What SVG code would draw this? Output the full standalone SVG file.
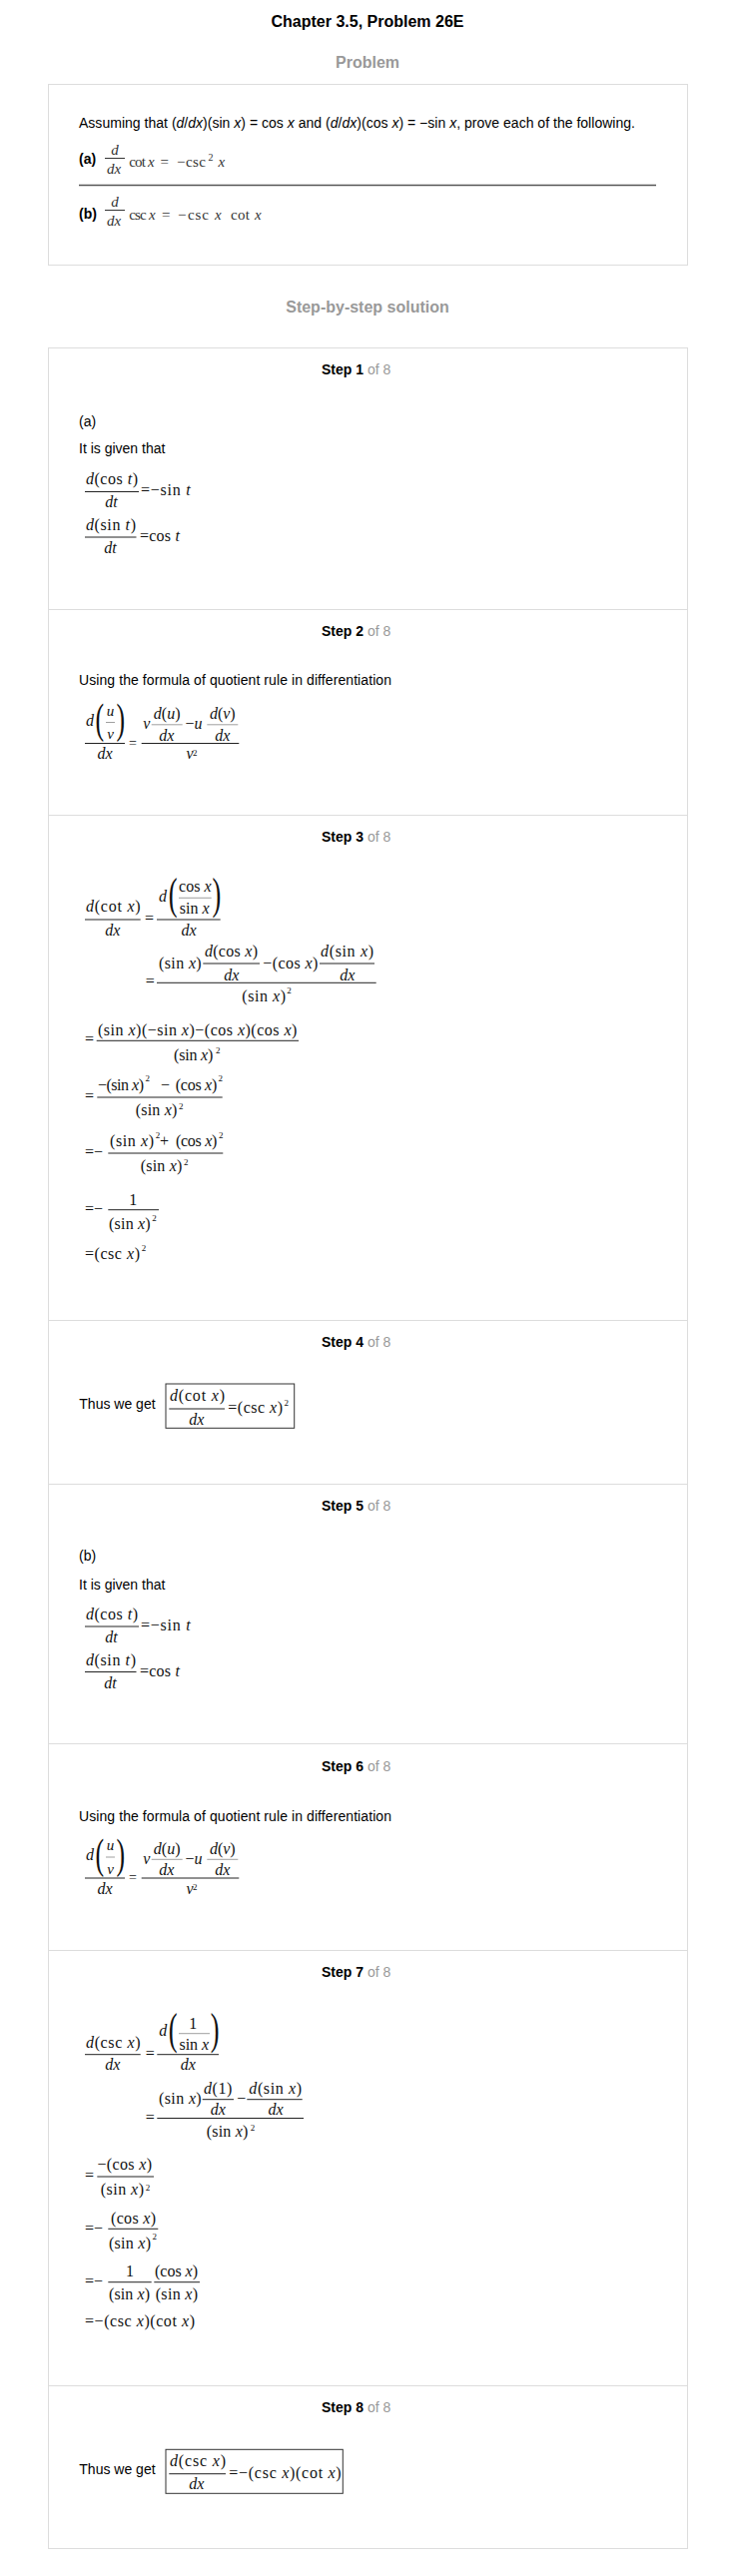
<svg xmlns="http://www.w3.org/2000/svg" width="738" height="2580" viewBox="0 0 738 2580">
<style>
.s{font-family:"Liberation Sans",Arial,sans-serif;font-size:14px;fill:#000}
.b{font-weight:bold}
.h{font-family:"Liberation Sans",Arial,sans-serif;font-size:16px;font-weight:bold;fill:#999;text-anchor:middle}
.g{fill:#999;font-weight:normal}
.m{font-family:"Liberation Serif","Times New Roman",serif;font-size:16px;fill:#111}
.pm{font-family:"Liberation Serif","Times New Roman",serif;font-size:15px;fill:#333}
.i{font-style:italic}
.c{text-anchor:middle}
.sp{font-size:9px}
.bp{font-family:"Liberation Serif","Times New Roman",serif;font-size:44px;fill:#111}
.fl{stroke:#222;stroke-width:1}
.fg{stroke:#888;stroke-width:0.8}
.bd{fill:none;stroke:#ddd;stroke-width:1}
.bx{fill:none;stroke:#333;stroke-width:1}
</style>
<rect x="0" y="0" width="738" height="2580" fill="#fff"/>

<g id="header">
<text x="368" y="27" class="s b c" style="font-size:16px">Chapter 3.5, Problem 26E</text>
<text x="368" y="68" class="h">Problem</text>
</g>

<g id="problem">
<rect x="48.5" y="84.5" width="640" height="181" class="bd"/>
<text x="79" y="128" class="s" textLength="557" lengthAdjust="spacing">Assuming that (<tspan class="i">d</tspan>/<tspan class="i">dx</tspan>)(sin <tspan class="i">x</tspan>) = cos <tspan class="i">x</tspan> and (<tspan class="i">d</tspan>/<tspan class="i">dx</tspan>)(cos <tspan class="i">x</tspan>) = −sin <tspan class="i">x</tspan>, prove each of the following.</text>
<text x="79" y="164" class="s b">(a)</text>
<text x="115" y="155" class="pm i c">d</text>
<line x1="105" y1="158.5" x2="125" y2="158.5" stroke="#333" stroke-width="1"/>
<text x="114" y="174" class="pm i c">dx</text>
<text x="129.3" y="166.5" class="pm" textLength="16.5" lengthAdjust="spacing">cot</text>
<text x="148" y="166.5" class="pm i">x</text>
<text x="160.5" y="166.5" class="pm">=</text>
<text x="177" y="166.5" class="pm">−</text>
<text x="186" y="166.5" class="pm" textLength="20" lengthAdjust="spacing">csc</text>
<text x="208.5" y="161" class="pm" style="font-size:10px">2</text>
<text x="218.5" y="166.5" class="pm i">x</text>
<line x1="79" y1="185.5" x2="657" y2="185.5" stroke="#555" stroke-width="1.5"/>
<text x="79" y="219" class="s b">(b)</text>
<text x="115" y="206.7" class="pm i c">d</text>
<line x1="105" y1="210.5" x2="125" y2="210.5" stroke="#333" stroke-width="1"/>
<text x="114" y="226" class="pm i c">dx</text>
<text x="129.3" y="220" class="pm" textLength="17.4" lengthAdjust="spacing">csc</text>
<text x="149" y="220" class="pm i">x</text>
<text x="162" y="220" class="pm">=</text>
<text x="178" y="220" class="pm">−</text>
<text x="188" y="220" class="pm" textLength="21" lengthAdjust="spacing">csc</text>
<text x="215" y="220" class="pm i">x</text>
<text x="231" y="220" class="pm" textLength="19" lengthAdjust="spacing">cot</text>
<text x="255" y="220" class="pm i">x</text>
</g>

<text x="368" y="313" class="h">Step-by-step solution</text>

<g id="steps-frame">
<rect x="48.5" y="348.5" width="640" height="2204" class="bd"/>
<line x1="48.5" y1="610.5" x2="688.5" y2="610.5" class="bd"/>
<line x1="48.5" y1="816.5" x2="688.5" y2="816.5" class="bd"/>
<line x1="48.5" y1="1322.5" x2="688.5" y2="1322.5" class="bd"/>
<line x1="48.5" y1="1486.5" x2="688.5" y2="1486.5" class="bd"/>
<line x1="48.5" y1="1746.5" x2="688.5" y2="1746.5" class="bd"/>
<line x1="48.5" y1="1953.5" x2="688.5" y2="1953.5" class="bd"/>
<line x1="48.5" y1="2389.5" x2="688.5" y2="2389.5" class="bd"/>
</g>

<g id="step1">
<text x="322" y="375" class="s b">Step 1<tspan class="g"> of 8</tspan></text>
<text x="79" y="427" class="s">(a)</text>
<text x="79" y="454" class="s">It is given that</text>
<text x="86" y="485" class="m" textLength="52" lengthAdjust="spacing"><tspan class="i">d</tspan>(cos <tspan class="i">t</tspan>)</text>
<line x1="85" y1="492.5" x2="139" y2="492.5" class="fl"/>
<text x="111.5" y="508" class="m i c">dt</text>
<text x="141" y="496" class="m" textLength="49.6" lengthAdjust="spacing">=−sin <tspan class="i">t</tspan></text>
<text x="86" y="531" class="m" textLength="50" lengthAdjust="spacing"><tspan class="i">d</tspan>(sin <tspan class="i">t</tspan>)</text>
<line x1="85" y1="538" x2="136.5" y2="538" class="fl"/>
<text x="110.6" y="554" class="m i c">dt</text>
<text x="140" y="542" class="m" textLength="40" lengthAdjust="spacing">=cos <tspan class="i">t</tspan></text>
</g>

<g id="step2">
<text x="322" y="637" class="s b">Step 2<tspan class="g"> of 8</tspan></text>
<text x="79" y="686" class="s" textLength="313" lengthAdjust="spacing">Using the formula of quotient rule in differentiation</text>
<g transform="translate(0,744.5)">
<text x="86" y="-17.7" class="m i">d</text>
<text class="bp" style="font-size:43px" transform="translate(95.5,-10.2) scale(0.6,1)">(</text>
<text class="bp" style="font-size:43px" transform="translate(116.6,-10.2) scale(0.6,1)">)</text>
<text x="110.5" y="-27.7" class="m i c" style="font-size:15px">u</text>
<line x1="106" y1="-21" x2="115" y2="-21" class="fg"/>
<text x="110.5" y="-4.3" class="m i c" style="font-size:15px">v</text>
<line x1="85" y1="0" x2="125" y2="0" class="fl"/>
<text x="105" y="15.7" class="m i c">dx</text>
<text x="129" y="4" class="m" style="font-size:14px">=</text>
<line x1="141.7" y1="0" x2="239.3" y2="0" class="fl"/>
<text x="143.3" y="-14.3" class="m i">v</text>
<line x1="151.7" y1="-18.7" x2="182.7" y2="-18.7" class="fg"/>
<text x="167.2" y="-24.3" class="m c"><tspan class="i">d</tspan>(<tspan class="i">u</tspan>)</text>
<text x="166.7" y="-2.7" class="m i c">dx</text>
<text x="185.5" y="-14.3" class="m">−<tspan class="i">u</tspan></text>
<line x1="207.3" y1="-18.7" x2="238.3" y2="-18.7" class="fg"/>
<text x="222.8" y="-24.3" class="m c"><tspan class="i">d</tspan>(<tspan class="i">v</tspan>)</text>
<text x="222.7" y="-2.7" class="m i c">dx</text>
<text x="190" y="15.7" class="m i c">v</text>
<text x="193" y="12" class="m sp">2</text>
</g>
</g>

<g id="step3">
<text x="322" y="843.3" class="s b">Step 3<tspan class="g"> of 8</tspan></text>
<text x="86" y="913.3" class="m" textLength="54.7" lengthAdjust="spacing"><tspan class="i">d</tspan>(cot <tspan class="i">x</tspan>)</text>
<line x1="85" y1="921" x2="140.7" y2="921" class="fl"/>
<text x="112.7" y="936.7" class="m i c">dx</text>
<text x="145" y="925" class="m">=</text>
<line x1="157" y1="921" x2="220.7" y2="921" class="fl"/>
<text x="159" y="902.7" class="m i">d</text>
<text class="bp" transform="translate(168.7,909.7) scale(0.6,1)">(</text>
<text class="bp" transform="translate(212.5,909.7) scale(0.6,1)">)</text>
<text x="195.3" y="893.3" class="m c">cos <tspan class="i">x</tspan></text>
<line x1="179" y1="899.3" x2="211.7" y2="899.3" class="fg"/>
<text x="194.7" y="915" class="m c">sin <tspan class="i">x</tspan></text>
<text x="189" y="936.7" class="m i c">dx</text>

<text x="145.7" y="988.3" class="m">=</text>
<line x1="157" y1="984.3" x2="376.7" y2="984.3" class="fl"/>
<text x="159" y="970" class="m" textLength="42.7" lengthAdjust="spacing">(sin <tspan class="i">x</tspan>)</text>
<text x="205" y="958.3" class="m" textLength="53" lengthAdjust="spacing"><tspan class="i">d</tspan>(cos <tspan class="i">x</tspan>)</text>
<line x1="203.3" y1="965" x2="260" y2="965" class="fl"/>
<text x="231.7" y="981.7" class="m i c">dx</text>
<text x="263.3" y="970" class="m" textLength="55" lengthAdjust="spacing">−(cos <tspan class="i">x</tspan>)</text>
<text x="321" y="958.3" class="m" textLength="53" lengthAdjust="spacing"><tspan class="i">d</tspan>(sin <tspan class="i">x</tspan>)</text>
<line x1="320" y1="965" x2="375" y2="965" class="fl"/>
<text x="347.7" y="981.7" class="m i c">dx</text>
<text x="242.3" y="1003.3" class="m" textLength="43.7" lengthAdjust="spacing">(sin <tspan class="i">x</tspan>)</text>
<text x="287.3" y="995" class="m sp">2</text>

<text x="85" y="1046.3" class="m">=</text>
<line x1="96.7" y1="1042.3" x2="299" y2="1042.3" class="fl"/>
<text x="98" y="1036.7" class="m" textLength="199.4" lengthAdjust="spacing">(sin <tspan class="i">x</tspan>)(−sin <tspan class="i">x</tspan>)−(cos <tspan class="i">x</tspan>)(cos <tspan class="i">x</tspan>)</text>
<text x="174" y="1061.7" class="m" textLength="39.3" lengthAdjust="spacing">(sin <tspan class="i">x</tspan>)</text>
<text x="216" y="1055" class="m sp">2</text>

<text x="85" y="1103" class="m">=</text>
<line x1="97.3" y1="1099" x2="222.7" y2="1099" class="fl"/>
<text x="98" y="1091.7" class="m" textLength="46" lengthAdjust="spacing">−(sin <tspan class="i">x</tspan>)</text>
<text x="145.5" y="1083" class="m sp">2</text>
<text x="161" y="1091.7" class="m">−</text>
<text x="175.7" y="1091.7" class="m" textLength="41.6" lengthAdjust="spacing">(cos <tspan class="i">x</tspan>)</text>
<text x="218.5" y="1083" class="m sp">2</text>
<text x="135.7" y="1116.7" class="m" textLength="41.6" lengthAdjust="spacing">(sin <tspan class="i">x</tspan>)</text>
<text x="179" y="1111" class="m sp">2</text>

<text x="85" y="1159" class="m">=−</text>
<line x1="108.3" y1="1155" x2="223.3" y2="1155" class="fl"/>
<text x="110" y="1148.3" class="m" textLength="44" lengthAdjust="spacing">(sin <tspan class="i">x</tspan>)</text>
<text x="155.7" y="1140" class="m sp">2</text>
<text x="160" y="1148.3" class="m">+</text>
<text x="176" y="1148.3" class="m" textLength="41.3" lengthAdjust="spacing">(cos <tspan class="i">x</tspan>)</text>
<text x="219" y="1140" class="m sp">2</text>
<text x="140.7" y="1173.3" class="m" textLength="41.6" lengthAdjust="spacing">(sin <tspan class="i">x</tspan>)</text>
<text x="184" y="1166.5" class="m sp">2</text>

<text x="85" y="1216" class="m">=−</text>
<line x1="108.3" y1="1211.7" x2="159" y2="1211.7" class="fl"/>
<text x="133.3" y="1206.7" class="m c">1</text>
<text x="109" y="1230.7" class="m" textLength="41.7" lengthAdjust="spacing">(sin <tspan class="i">x</tspan>)</text>
<text x="152.3" y="1222.5" class="m sp">2</text>

<text x="85" y="1260.7" class="m" textLength="55" lengthAdjust="spacing">=(csc <tspan class="i">x</tspan>)</text>
<text x="141.7" y="1252.5" class="m sp">2</text>
</g>

<g id="step4">
<text x="322" y="1349" class="s b">Step 4<tspan class="g"> of 8</tspan></text>
<text x="79.3" y="1411" class="s">Thus we get</text>
<rect x="166" y="1386" width="128.7" height="44.3" class="bx"/>
<text x="170" y="1403.3" class="m" textLength="55" lengthAdjust="spacing"><tspan class="i">d</tspan>(cot <tspan class="i">x</tspan>)</text>
<line x1="169.3" y1="1411" x2="225" y2="1411" class="fl"/>
<text x="196.7" y="1426.7" class="m i c">dx</text>
<text x="228.3" y="1415" class="m" textLength="54.7" lengthAdjust="spacing">=(csc <tspan class="i">x</tspan>)</text>
<text x="284.5" y="1408" class="m sp">2</text>
</g>

<g id="step5">
<text x="322" y="1513.3" class="s b">Step 5<tspan class="g"> of 8</tspan></text>
<text x="79" y="1563.3" class="s">(b)</text>
<text x="79" y="1591.7" class="s">It is given that</text>
<g transform="translate(0,1136.5)">
<text x="86" y="485" class="m" textLength="52" lengthAdjust="spacing"><tspan class="i">d</tspan>(cos <tspan class="i">t</tspan>)</text>
<line x1="85" y1="492.5" x2="139" y2="492.5" class="fl"/>
<text x="111.5" y="508" class="m i c">dt</text>
<text x="141" y="496" class="m" textLength="49.6" lengthAdjust="spacing">=−sin <tspan class="i">t</tspan></text>
<text x="86" y="531" class="m" textLength="50" lengthAdjust="spacing"><tspan class="i">d</tspan>(sin <tspan class="i">t</tspan>)</text>
<line x1="85" y1="538" x2="136.5" y2="538" class="fl"/>
<text x="110.6" y="554" class="m i c">dt</text>
<text x="140" y="542" class="m" textLength="40" lengthAdjust="spacing">=cos <tspan class="i">t</tspan></text>
</g>
</g>

<g id="step6">
<text x="322" y="1774.3" class="s b">Step 6<tspan class="g"> of 8</tspan></text>
<text x="79" y="1824.3" class="s" textLength="313" lengthAdjust="spacing">Using the formula of quotient rule in differentiation</text>
<g transform="translate(0,1881)">
<text x="86" y="-17.7" class="m i">d</text>
<text class="bp" style="font-size:43px" transform="translate(95.5,-10.2) scale(0.6,1)">(</text>
<text class="bp" style="font-size:43px" transform="translate(116.6,-10.2) scale(0.6,1)">)</text>
<text x="110.5" y="-27.7" class="m i c" style="font-size:15px">u</text>
<line x1="106" y1="-21" x2="115" y2="-21" class="fg"/>
<text x="110.5" y="-4.3" class="m i c" style="font-size:15px">v</text>
<line x1="85" y1="0" x2="125" y2="0" class="fl"/>
<text x="105" y="15.7" class="m i c">dx</text>
<text x="129" y="4" class="m" style="font-size:14px">=</text>
<line x1="141.7" y1="0" x2="239.3" y2="0" class="fl"/>
<text x="143.3" y="-14.3" class="m i">v</text>
<line x1="151.7" y1="-18.7" x2="182.7" y2="-18.7" class="fg"/>
<text x="167.2" y="-24.3" class="m c"><tspan class="i">d</tspan>(<tspan class="i">u</tspan>)</text>
<text x="166.7" y="-2.7" class="m i c">dx</text>
<text x="185.5" y="-14.3" class="m">−<tspan class="i">u</tspan></text>
<line x1="207.3" y1="-18.7" x2="238.3" y2="-18.7" class="fg"/>
<text x="222.8" y="-24.3" class="m c"><tspan class="i">d</tspan>(<tspan class="i">v</tspan>)</text>
<text x="222.7" y="-2.7" class="m i c">dx</text>
<text x="190" y="15.7" class="m i c">v</text>
<text x="193" y="12" class="m sp">2</text>
</g>
</g>

<g id="step7">
<text x="322" y="1980" class="s b">Step 7<tspan class="g"> of 8</tspan></text>
<text x="86" y="2050.7" class="m" textLength="54.7" lengthAdjust="spacing"><tspan class="i">d</tspan>(csc <tspan class="i">x</tspan>)</text>
<line x1="85" y1="2057.7" x2="140.7" y2="2057.7" class="fl"/>
<text x="112.7" y="2073.3" class="m i c">dx</text>
<text x="145.7" y="2061.7" class="m">=</text>
<line x1="157.3" y1="2057.7" x2="219" y2="2057.7" class="fl"/>
<text x="159.3" y="2039.3" class="m i">d</text>
<text class="bp" transform="translate(168.7,2047) scale(0.6,1)">(</text>
<text class="bp" transform="translate(210.8,2047) scale(0.6,1)">)</text>
<text x="193.3" y="2031.7" class="m c">1</text>
<line x1="179" y1="2036.7" x2="210" y2="2036.7" class="fg"/>
<text x="194.3" y="2052.7" class="m c">sin <tspan class="i">x</tspan></text>
<text x="188.3" y="2073.3" class="m i c">dx</text>

<text x="145.7" y="2125.5" class="m">=</text>
<line x1="157.3" y1="2121.5" x2="304" y2="2121.5" class="fl"/>
<text x="159" y="2107.3" class="m" textLength="42.7" lengthAdjust="spacing">(sin <tspan class="i">x</tspan>)</text>
<text x="204" y="2096.7" class="m" textLength="28.3" lengthAdjust="spacing"><tspan class="i">d</tspan>(1)</text>
<line x1="202.7" y1="2102.7" x2="234" y2="2102.7" class="fl"/>
<text x="218.3" y="2118.3" class="m i c">dx</text>
<text x="237.3" y="2107.3" class="m">−</text>
<text x="249.3" y="2096.7" class="m" textLength="52.7" lengthAdjust="spacing"><tspan class="i">d</tspan>(sin <tspan class="i">x</tspan>)</text>
<line x1="247.3" y1="2102.7" x2="302.7" y2="2102.7" class="fl"/>
<text x="276" y="2118.3" class="m i c">dx</text>
<text x="206.7" y="2140" class="m" textLength="41.6" lengthAdjust="spacing">(sin <tspan class="i">x</tspan>)</text>
<text x="250.7" y="2134" class="m sp">2</text>

<text x="85" y="2184" class="m">=</text>
<line x1="97.3" y1="2180" x2="154" y2="2180" class="fl"/>
<text x="97.5" y="2173.3" class="m" textLength="54.5" lengthAdjust="spacing">−(cos <tspan class="i">x</tspan>)</text>
<text x="100.7" y="2198.3" class="m" textLength="43.3" lengthAdjust="spacing">(sin <tspan class="i">x</tspan>)</text>
<text x="145.7" y="2194" class="m sp">2</text>

<text x="85" y="2236.5" class="m">=−</text>
<line x1="108.3" y1="2232.3" x2="158.3" y2="2232.3" class="fl"/>
<text x="111" y="2226.7" class="m" textLength="45" lengthAdjust="spacing">(cos <tspan class="i">x</tspan>)</text>
<text x="109" y="2251.7" class="m" textLength="42" lengthAdjust="spacing">(sin <tspan class="i">x</tspan>)</text>
<text x="152.5" y="2242.5" class="m sp">2</text>

<text x="85" y="2290" class="m">=−</text>
<line x1="108.3" y1="2285.7" x2="151.7" y2="2285.7" class="fl"/>
<text x="130" y="2280" class="m c">1</text>
<text x="109" y="2303.3" class="m" textLength="41" lengthAdjust="spacing">(sin <tspan class="i">x</tspan>)</text>
<line x1="154.3" y1="2285.7" x2="200" y2="2285.7" class="fl"/>
<text x="155" y="2280" class="m" textLength="43" lengthAdjust="spacing">(cos <tspan class="i">x</tspan>)</text>
<text x="155.7" y="2303.3" class="m" textLength="42.3" lengthAdjust="spacing">(sin <tspan class="i">x</tspan>)</text>

<text x="85" y="2330" class="m" textLength="110" lengthAdjust="spacing">=−(csc <tspan class="i">x</tspan>)(cot <tspan class="i">x</tspan>)</text>
</g>

<g id="step8">
<text x="322" y="2416" class="s b">Step 8<tspan class="g"> of 8</tspan></text>
<text x="79.3" y="2477.7" class="s">Thus we get</text>
<rect x="166" y="2453.3" width="177.3" height="44" class="bx"/>
<text x="170" y="2470" class="m" textLength="56" lengthAdjust="spacing"><tspan class="i">d</tspan>(csc <tspan class="i">x</tspan>)</text>
<line x1="169.3" y1="2477.7" x2="226" y2="2477.7" class="fl"/>
<text x="196.7" y="2493.3" class="m i c">dx</text>
<text x="229.3" y="2481.7" class="m" textLength="112.4" lengthAdjust="spacing">=−(csc <tspan class="i">x</tspan>)(cot <tspan class="i">x</tspan>)</text>
</g>

<g id="connectors"></g>
</svg>
